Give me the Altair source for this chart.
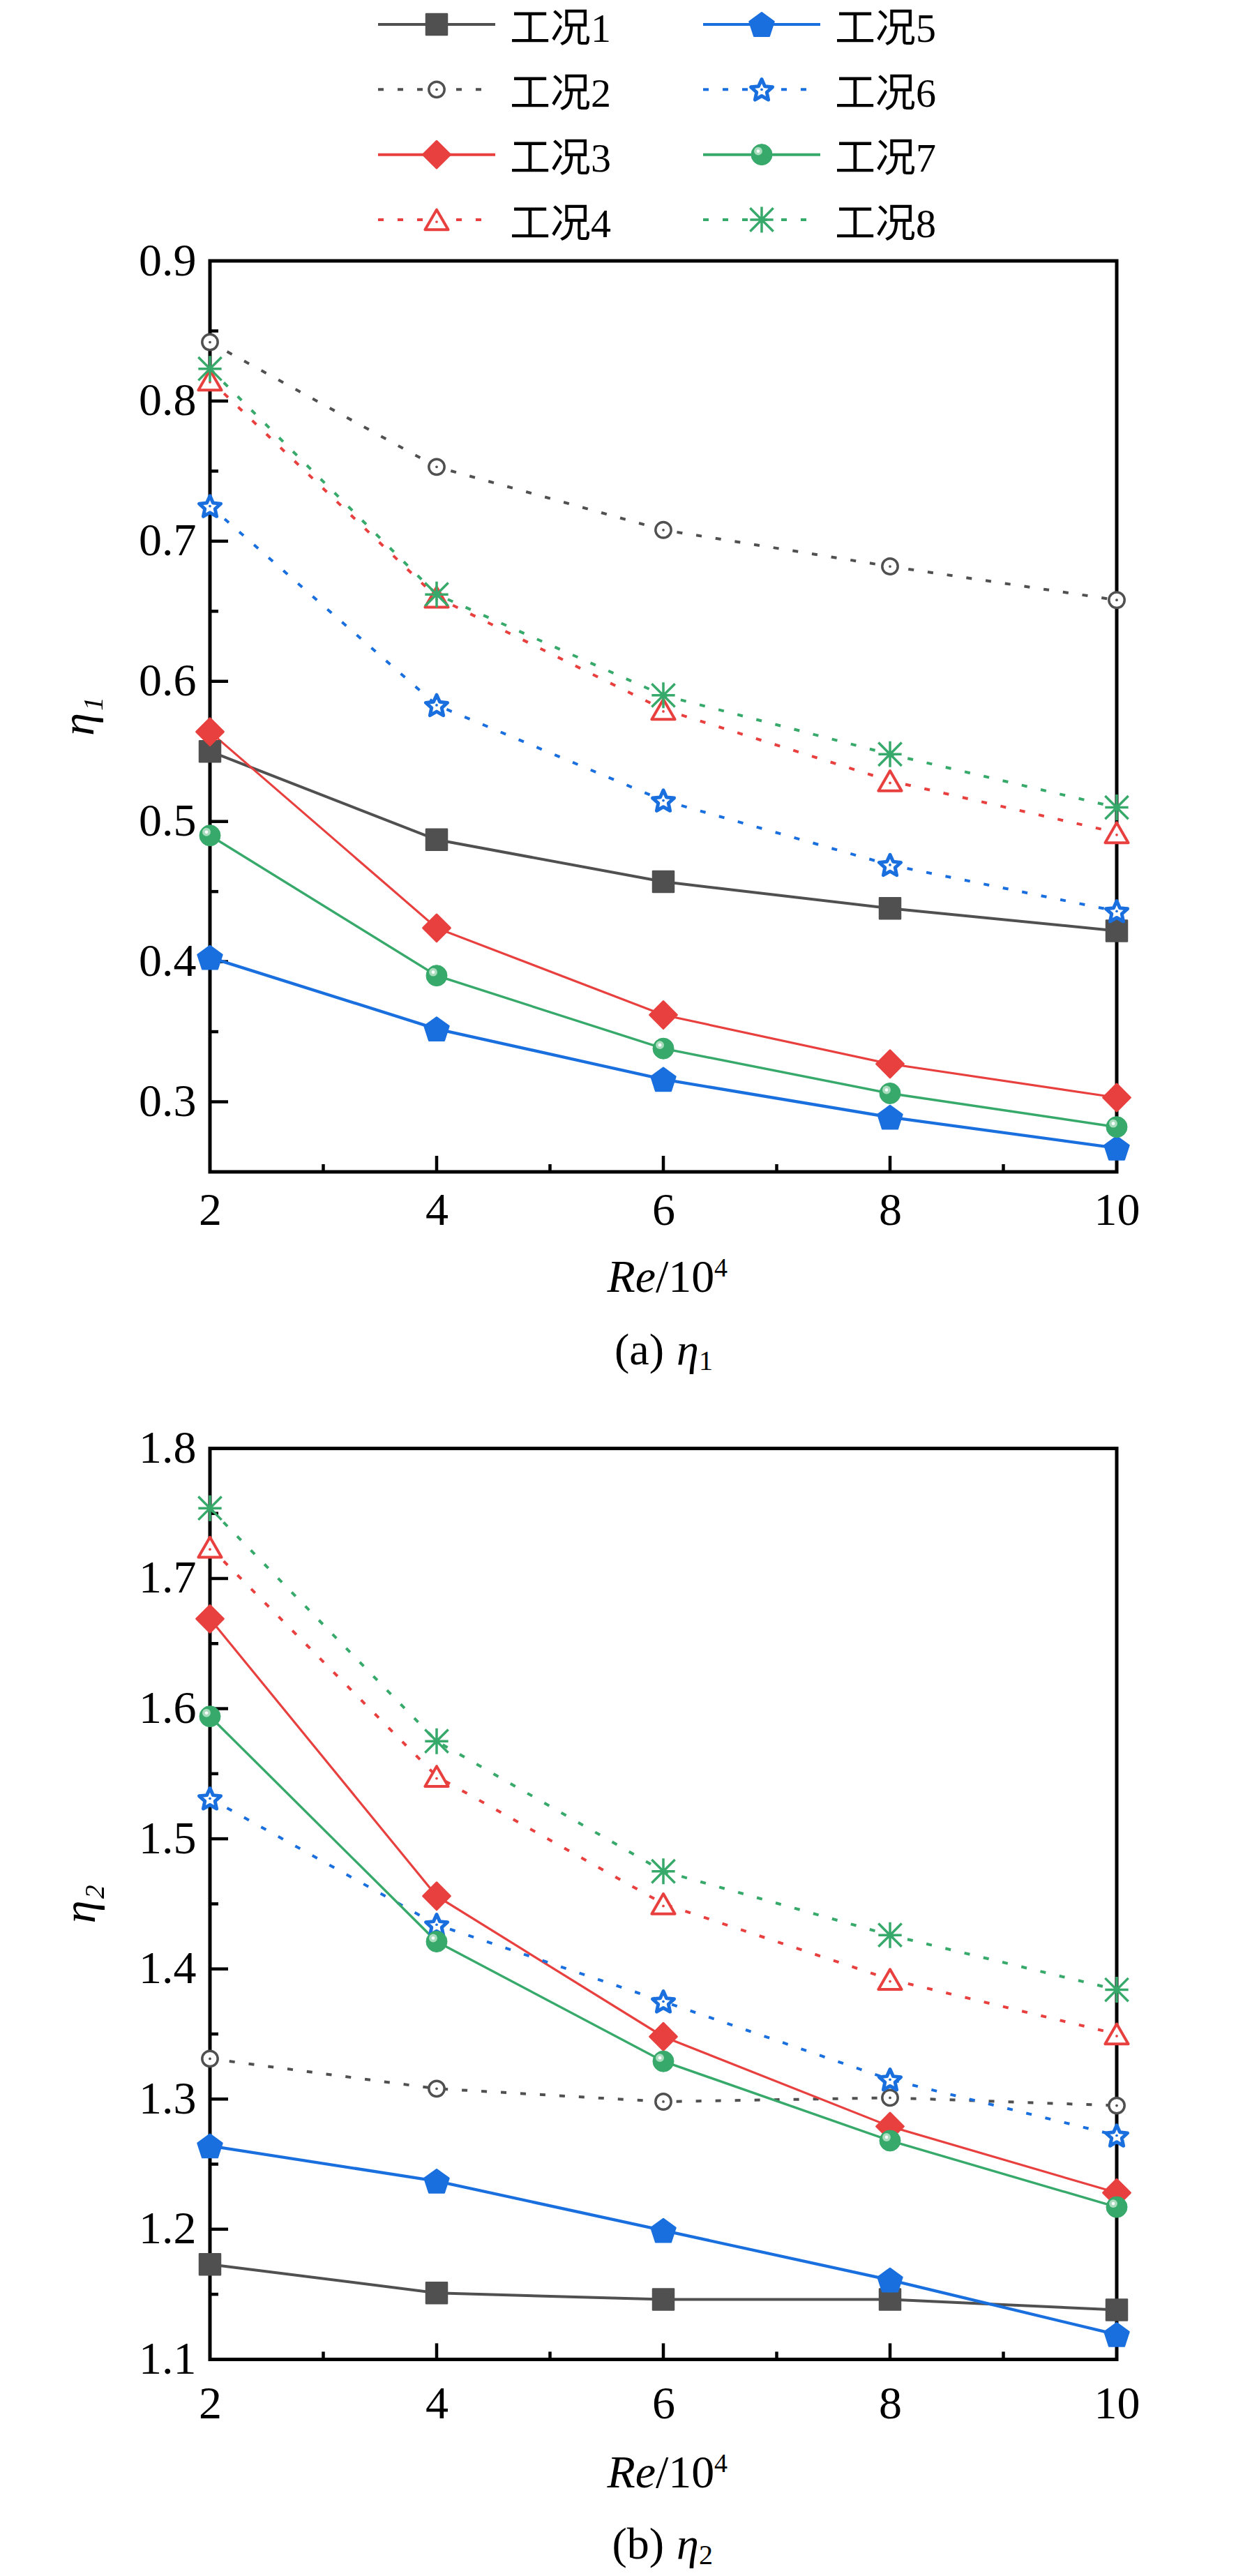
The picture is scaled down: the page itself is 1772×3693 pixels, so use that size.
import math
import altair as alt
import pandas as pd

# ---------------- data ----------------
re_vals = [2, 4, 6, 8, 10]
cases = ["工况1", "工况2", "工况3", "工况4", "工况5", "工况6", "工况7", "工况8"]

eta1_c1 = [0.550, 0.487, 0.457, 0.438, 0.422]
eta1_c2 = [0.842, 0.753, 0.708, 0.682, 0.658]
eta1_c3 = [0.564, 0.424, 0.362, 0.327, 0.303]
eta1_c4 = [0.815, 0.660, 0.580, 0.529, 0.492]
eta1_c5 = [0.403, 0.352, 0.316, 0.289, 0.267]
eta1_c6 = [0.725, 0.583, 0.515, 0.469, 0.436]
eta1_c7 = [0.490, 0.390, 0.338, 0.306, 0.282]
eta1_c8 = [0.823, 0.662, 0.590, 0.548, 0.510]

eta2_c1 = [1.173, 1.151, 1.146, 1.146, 1.138]
eta2_c2 = [1.331, 1.308, 1.298, 1.301, 1.295]
eta2_c3 = [1.669, 1.456, 1.348, 1.279, 1.228]
eta2_c4 = [1.724, 1.548, 1.450, 1.392, 1.350]
eta2_c5 = [1.264, 1.237, 1.199, 1.161, 1.119]
eta2_c6 = [1.531, 1.434, 1.375, 1.315, 1.272]
eta2_c7 = [1.594, 1.421, 1.329, 1.268, 1.217]
eta2_c8 = [1.754, 1.575, 1.475, 1.426, 1.384]

x_labels = [2, 4, 6, 8, 10]
x_major_in = [4, 6, 8]
x_minor = [3, 5, 7, 9]
y1_labels = [0.3, 0.4, 0.5, 0.6, 0.7, 0.8, 0.9]
y1_major_in = [0.3, 0.4, 0.5, 0.6, 0.7, 0.8]
y1_minor = [0.35, 0.45, 0.55, 0.65, 0.75, 0.85]
y2_labels = [1.1, 1.2, 1.3, 1.4, 1.5, 1.6, 1.7, 1.8]
y2_major_in = [1.2, 1.3, 1.4, 1.5, 1.6, 1.7]
y2_minor = [1.15, 1.25, 1.35, 1.45, 1.55, 1.65, 1.75]

eta1_all = [eta1_c1, eta1_c2, eta1_c3, eta1_c4, eta1_c5, eta1_c6, eta1_c7, eta1_c8]
eta2_all = [eta2_c1, eta2_c2, eta2_c3, eta2_c4, eta2_c5, eta2_c6, eta2_c7, eta2_c8]


def long_df(vals_list):
    rows = []
    for case, vals in zip(cases, vals_list):
        for r, v in zip(re_vals, vals):
            rows.append({"case": case, "Re": r, "eta": v})
    return pd.DataFrame(rows)


df1 = long_df(eta1_all)
df2 = long_df(eta2_all)

# ---------------- styles ----------------
GRAY, RED, BLUE, GREEN = "#505050", "#E8403E", "#1A6FDF", "#37A96A"
SERIF = "Liberation Serif"
CJK = "Liberation Serif, Noto Sans CJK SC"
DOT = [8, 20]
W, H = 1300, 1306

PENTAGON = "M0,-0.905L0.951,-0.214L0.588,0.905L-0.588,0.905L-0.951,-0.214Z"
_pts = []
for k in range(10):
    a = math.radians(-90 + 36 * k)
    r = 1.0 if k % 2 == 0 else 0.47
    _pts.append((r * math.cos(a), r * math.sin(a) + 0.095))
STAR = "M" + "L".join(f"{x:.3f},{y:.3f}" for x, y in _pts) + "Z"
ASTER = "M0,-1L0,1M-0.9,0L0.9,0M-0.9,-0.9L0.9,0.9M-0.9,0.9L0.9,-0.9"

styles = {
    "工况1": dict(color=GRAY, dash=None, lw=4.0, shape="square", size=900, fill=GRAY, sw=2.5, dot=False),
    "工况2": dict(color=GRAY, dash=DOT, lw=4.0, shape="circle", size=500, fill="white", sw=3.5, dot=True),
    "工况3": dict(color=RED, dash=None, lw=3.2, shape="diamond", size=1500, fill=RED, sw=3, dot=False),
    "工况4": dict(color=RED, dash=DOT, lw=4.0, shape="triangle-up", size=1100, fill="white", sw=4, dot=True),
    "工况5": dict(color=BLUE, dash=None, lw=4.3, shape=PENTAGON, size=1350, fill=BLUE, sw=2.5, dot=False),
    "工况6": dict(color=BLUE, dash=DOT, lw=4.0, shape=STAR, size=1060, fill="white", sw=5, dot=True),
    "工况7": dict(color=GREEN, dash=None, lw=3.4, shape="circle", size=900, fill=GREEN, sw=1, dot=False),
    "工况8": dict(color=GREEN, dash=DOT, lw=4.0, shape=ASTER, size=1370, fill="transparent", sw=3.5, dot=False),
}

dummy = pd.DataFrame({"k": [0]})


def txt(text, x, y, size=64, style="normal", align="left", baseline="alphabetic", angle=0, font=SERIF):
    return alt.Chart(dummy).mark_text(
        text=text, fontSize=size, fontStyle=style, align=align, baseline=baseline,
        angle=angle, font=font, color="black"
    ).encode(x=alt.value(x), y=alt.value(y))


def marker_layers(data, x_enc, y_enc):
    layers = []
    for c in cases:
        s = styles[c]
        base = alt.Chart(data).transform_filter(alt.datum.case == c)
        layers.append(base.mark_point(
            shape=s["shape"], size=s["size"], filled=True, fill=s["fill"], stroke=s["color"],
            strokeWidth=s["sw"], strokeJoin="round", opacity=1, fillOpacity=1, strokeOpacity=1
        ).encode(x=x_enc, y=y_enc))
        if s["dot"]:
            layers.append(base.mark_point(
                shape="circle", size=14, filled=True, color=s["color"], opacity=1,
                yOffset=3 if s["shape"] == "triangle-up" else 0
            ).encode(x=x_enc, y=y_enc))
        if c == "工况7":
            layers.append(base.mark_point(
                shape="circle", size=140, filled=True, color="#A9DCBD", opacity=1, xOffset=-5, yOffset=-5
            ).encode(x=x_enc, y=y_enc))
            layers.append(base.mark_point(
                shape="circle", size=22, filled=True, color="white", opacity=1, xOffset=-5, yOffset=-5
            ).encode(x=x_enc, y=y_enc))
    return layers


def panel(df, ydom, ylabels, ymajor, yminor, xlab_pad, ytitle_x, sub, letter, cap_base, xt_base):
    x_enc = alt.X("Re:Q", scale=alt.Scale(domain=[2, 10], nice=False, zero=False),
                  axis=alt.Axis(values=x_labels, format="d", title=None, domain=False, ticks=False,
                                grid=False, labelFont=SERIF, labelFontSize=66, labelColor="black",
                                labelPadding=xlab_pad, labelFlush=False, labelOverlap=False))
    y_enc = alt.Y("eta:Q", scale=alt.Scale(domain=ydom, nice=False, zero=False),
                  axis=alt.Axis(values=ylabels, format=".1f", title=None, domain=False, ticks=False,
                                grid=False, labelFont=SERIF, labelFontSize=66, labelColor="black",
                                labelPadding=20, labelFlush=False, labelOverlap=False))
    layers = []
    # inward ticks
    layers.append(alt.Chart(pd.DataFrame({"eta": ymajor})).mark_rule(color="black", strokeWidth=4.5)
                  .encode(y=y_enc, x=alt.value(0), x2=alt.value(26)))
    layers.append(alt.Chart(pd.DataFrame({"eta": yminor})).mark_rule(color="black", strokeWidth=4.5)
                  .encode(y=y_enc, x=alt.value(0), x2=alt.value(12)))
    layers.append(alt.Chart(pd.DataFrame({"Re": x_major_in})).mark_rule(color="black", strokeWidth=4.5)
                  .encode(x=x_enc, y=alt.value(H), y2=alt.value(H - 23)))
    layers.append(alt.Chart(pd.DataFrame({"Re": x_minor})).mark_rule(color="black", strokeWidth=4.5)
                  .encode(x=x_enc, y=alt.value(H), y2=alt.value(H - 11)))
    # lines
    for c in cases:
        s = styles[c]
        kw = dict(color=s["color"], strokeWidth=s["lw"])
        if s["dash"]:
            kw["strokeDash"] = s["dash"]
        layers.append(alt.Chart(df).transform_filter(alt.datum.case == c).mark_line(**kw)
                      .encode(x=x_enc, y=y_enc))
    layers += marker_layers(df, x_enc, y_enc)
    # invisible left bound keeper
    layers.append(alt.Chart(dummy).mark_rule(opacity=0, strokeWidth=1)
                  .encode(x=alt.value(-290.5), y=alt.value(0), y2=alt.value(10)))
    # y title
    layers.append(txt("η" + sub, ytitle_x, H / 2, size=66, style="italic", align="center",
                      baseline="middle", angle=270))
    # x title
    layers.append(txt("Re", 639, xt_base, size=66, style="italic", align="right"))
    layers.append(txt("/10", 639, xt_base, size=66, align="left"))
    layers.append(txt("4", 723, xt_base - 22, size=38, align="left"))
    # caption
    layers.append(txt(f"({letter})", 651, cap_base, size=64, align="right"))
    layers.append(txt("η", 669, cap_base, size=64, style="italic", align="left"))
    layers.append(txt(sub.translate(str.maketrans("₁₂", "12")), 701, cap_base + 8, size=40, align="left"))
    return alt.layer(*layers).properties(width=W, height=H)


pa = panel(df1, [0.25, 0.9], y1_labels, y1_major_in, y1_minor, 23, -187, "₁", "a", 1581.5, 1478)
pb = panel(df2, [1.1, 1.8], y2_labels, y2_major_in, y2_minor, 32.5, -185, "₂", "b", 1592, 1489.6)

# ---------------- legend ----------------
leg_df = pd.DataFrame({"case": cases,
                       "col": [i // 4 for i in range(len(cases))],
                       "row": [i % 4 for i in range(len(cases))]})
lx = alt.X("col:Q", scale=alt.Scale(domain=[0, 1], range=[325, 791]), axis=None)
ly = alt.Y("row:Q", scale=alt.Scale(domain=[0, 3], range=[24, 304]), axis=None)
leg_layers = []
for c in cases:
    s = styles[c]
    kw = dict(color=s["color"], strokeWidth=4, xOffset=-84, x2Offset=84)
    if s["dash"]:
        kw["strokeDash"] = s["dash"]
    leg_layers.append(alt.Chart(leg_df).transform_filter(alt.datum.case == c).mark_rule(**kw)
                      .encode(x=lx, x2="col:Q", y=ly))
leg_layers += marker_layers(leg_df, lx, ly)
leg_layers.append(alt.Chart(leg_df).mark_text(align="left", baseline="middle", dx=105, dy=7.6,
                                              fontSize=58, font=CJK, color="black")
                  .encode(x=lx, y=ly, text="case:N"))
legend = alt.layer(*leg_layers).properties(width=W, height=332,
                                           view=alt.ViewBackground(stroke="transparent"))

chart = alt.vconcat(
    legend,
    alt.vconcat(pa, pb, spacing=396.4, bounds="flush"),
    spacing=31, bounds="flush"
).properties(
    padding={"left": 0, "top": 0, "right": 10, "bottom": 10},
    background="white"
).configure_view(stroke="black", strokeWidth=5)

chart.save("out.html", embed_options={"renderer": "svg", "actions": False})
